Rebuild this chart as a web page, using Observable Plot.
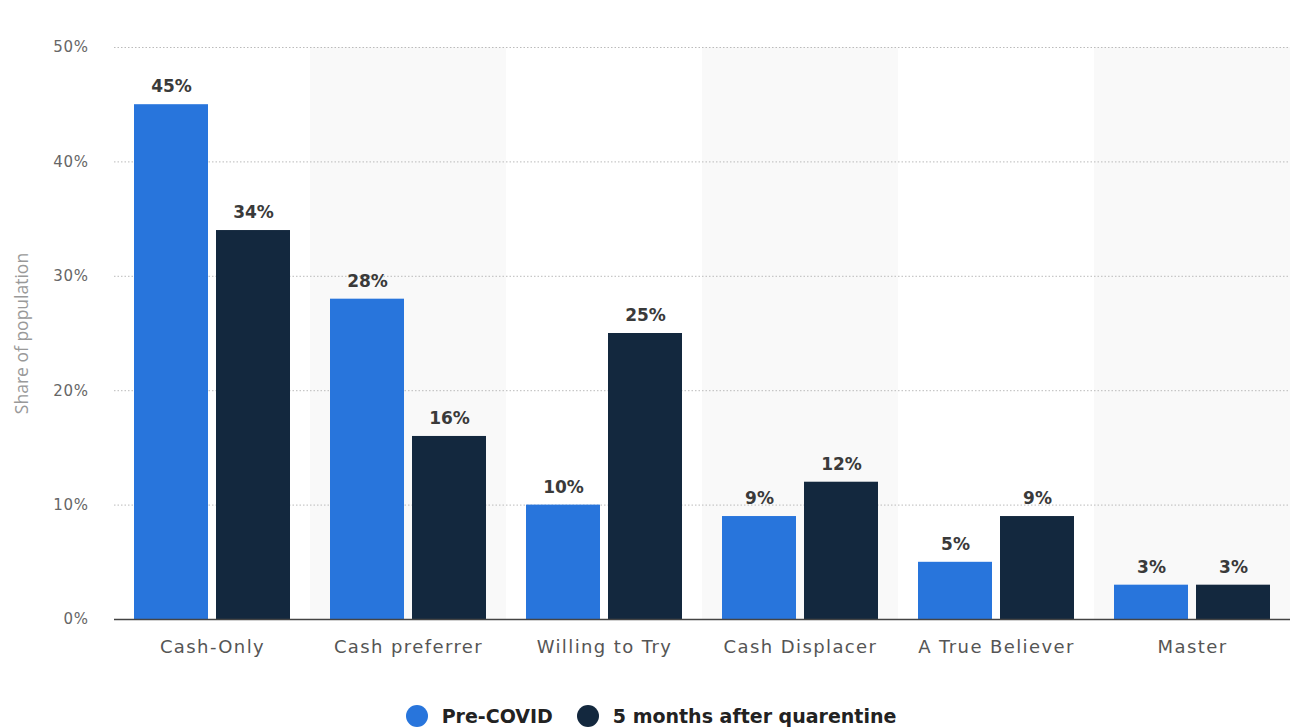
<!DOCTYPE html>
<html><head><meta charset="utf-8">
<script src="https://cdn.jsdelivr.net/npm/d3@7"></script>
<script src="https://cdn.jsdelivr.net/npm/@observablehq/plot@0.6"></script>
<style>
body{margin:0;background:#fff;font-family:"DejaVu Sans",sans-serif;}
#chart svg{display:block;}
[aria-label="y-axis label"]{font-family:"Open Sans",sans-serif;font-size:17.5px;fill:#999;}
[aria-label="fx-axis tick label"]{letter-spacing:1.4px;}
[aria-label="y-axis tick label"]{letter-spacing:0.6px;}
#legend{display:flex;justify-content:center;align-items:center;height:42px;font-family:"DejaVu Sans",sans-serif;font-weight:bold;font-size:19px;color:#222;}
#legend .item{display:flex;align-items:center;margin:0 12px;}
#legend .dot{width:22px;height:22px;border-radius:50%;margin-right:14px;}
</style></head><body><div id="chart"></div><div id="legend"></div>
<script>
const categories = ["Cash-Only","Cash preferrer","Willing to Try","Cash Displacer","A True Believer","Master"];
const series = ["Pre-COVID","5 months after quarentine"];
const preCovid = [45,28,10,9,5,3];
const afterQuarantine = [34,16,25,12,9,3];
const yTicks = [0,10,20,30,40,50];
const shadedCategories = ["Cash preferrer","Cash Displacer","Master"];
const colors = ["#2875dc","#13283e"];

const data = categories.flatMap((c,i)=>[
  {category:c, series:series[0], value:preCovid[i]},
  {category:c, series:series[1], value:afterQuarantine[i]}
]);

const chart = Plot.plot({
  width:1302, height:695, marginLeft:112, marginRight:11, marginTop:47, marginBottom:76,
  style:{fontFamily:"DejaVu Sans", background:"#fff", overflow:"visible"},
  fx:{domain:categories, padding:0, label:null},
  x:{domain:series, paddingInner:0.096, paddingOuter:0.229, axis:null},
  y:{domain:[0,50], ticks:yTicks},
  color:{domain:series, range:colors},
  marks:[
    Plot.barY(shadedCategories, {fx:d=>d, y:50, fill:"#f9f9f9"}),
    Plot.gridY(yTicks.filter(t=>t>0), {stroke:"#bbb", strokeOpacity:1, strokeDasharray:"1.5,2"}),
    Plot.barY(data, {fx:"category", x:"series", y:"value", fill:"series"}),
    Plot.ruleY([0], {stroke:"#444", strokeWidth:1.5}),
    Plot.text(data, {fx:"category", x:"series", y:"value", text:d=>d.value+"%", dy:-18, fontSize:17, fontWeight:"bold", fill:"#3a3a3a"}),
    Plot.axisY({ticks:yTicks, tickSize:0, tickPadding:26, tickFormat:d=>d+"%", fontSize:15, fill:"#666",
      label:"Share of population", labelAnchor:"center", labelArrow:"none", labelOffset:99}),
    Plot.axisFx({anchor:"bottom", tickSize:0, tickPadding:21, fontSize:18, fill:"#555", label:null})
  ]
});
document.getElementById("chart").append(chart);

const legend = document.getElementById("legend");
series.forEach((s,i)=>{
  const item = document.createElement("div"); item.className="item";
  const dot = document.createElement("span"); dot.className="dot"; dot.style.background=colors[i];
  const t = document.createElement("span"); t.textContent=s;
  item.append(dot,t); legend.append(item);
});
</script></body></html>
